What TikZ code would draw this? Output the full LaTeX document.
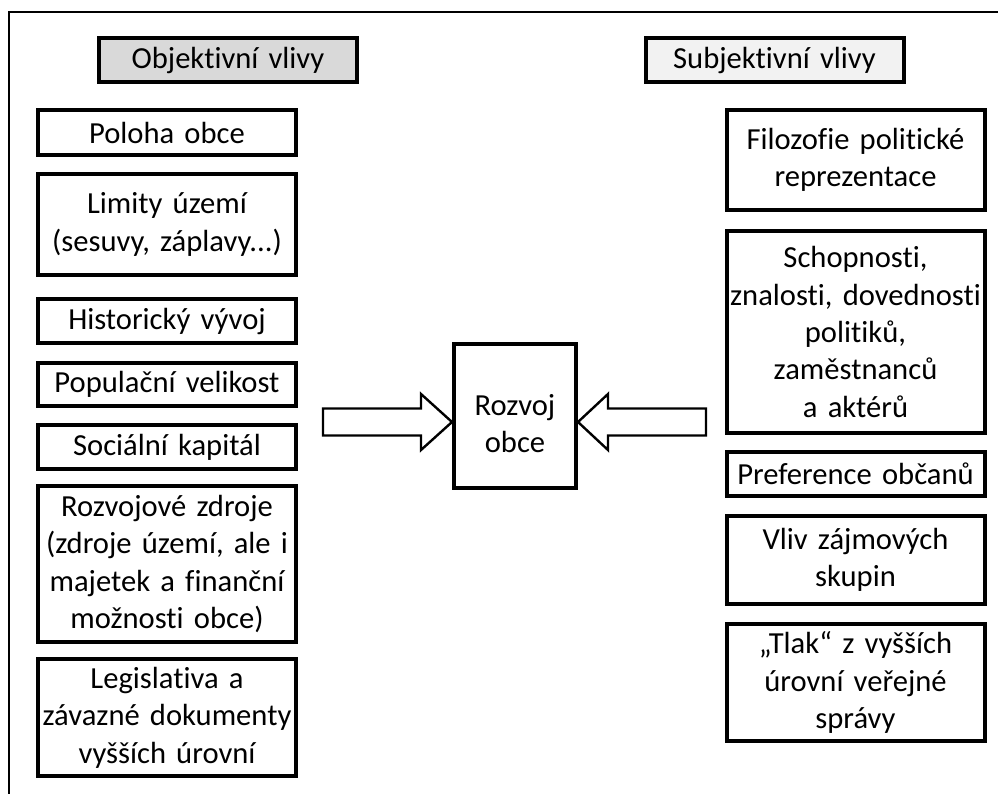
\documentclass[tikz,border=0pt]{standalone}
\usepackage{fontspec}
\setmainfont{Carlito}[Ligatures=NoCommon]
\usetikzlibrary{calc}

\begin{document}
\begin{tikzpicture}[x=0.5pt,y=-0.5pt,
    box/.style={draw, line width=2pt, align=center, text width=129pt,
        minimum width=129pt, inner xsep=0pt, inner ysep=2pt,
        font=\fontsize{15.3}{18.7}\selectfont},
    head/.style={box, minimum height=22pt},
    blockarrow/.style={draw, line width=1.2pt, fill=white, line join=miter}]

% page size and outer frame
\useasboundingbox (0,0) rectangle (998,794);
\draw[line width=1pt] (9,794) -- (9,12) -- (998,12);

% headings
\node[head, fill=black!15] (obj) at (228,60) {Objektivní vlivy};
\node[head, fill=black!5] (subj) at (774.5,60) {Subjektivní vlivy};

% objective influences
\node[box, minimum height=22.5pt] (poloha) at (167,132.5) {Poloha obce};
\node[box, minimum height=50.5pt] (limity) at (167,224.5) {Limity území\\(sesuvy, záplavy...)};
\node[box, minimum height=22pt] (historie) at (167,321) {Historický vývoj};
\node[box, minimum height=21.5pt] (populace) at (167,384.5) {Populační velikost};
\node[box, minimum height=22pt] (kapital) at (167,447) {Sociální kapitál};
\node[box, minimum height=78pt] (zdroje) at (167,564)
    {Rozvojové zdroje\\(zdroje území, ale i\\majetek a finanční\\možnosti obce)};
\node[box, minimum height=58.5pt] (legislativa) at (167,717.5)
    {Legislativa a\\závazné dokumenty\\vyšších úrovní};

% subjective influences
\node[box, minimum height=50pt] (filozofie) at (855.5,160) {Filozofie politické\\reprezentace};
\node[box, minimum height=101pt] (schopnosti) at (855.5,332)
    {Schopnosti,\\znalosti, dovednosti\\politiků,\\zaměstnanců\\a aktérů};
\node[box, minimum height=22pt] (preference) at (855.5,474) {Preference občanů};
\node[box, minimum height=44pt] (skupiny) at (855.5,560) {Vliv zájmových\\skupin};
\node[box, minimum height=58.5pt] (tlak) at (855.5,682.5)
    {„Tlak“ z vyšších\\úrovní veřejné\\správy};

% development of the municipality
\node[box, text width=61pt, minimum width=61pt, minimum height=72pt, text height=18pt]
    (rozvoj) at (515,416) {Rozvoj\\obce};

% block arrows into the centre
\draw[blockarrow] ([yshift=-3pt]rozvoj.west) -- ++(-31,-28) -- ++(0,14.5) -- ++(-98,0)
    -- ++(0,27) -- ++(98,0) -- ++(0,14.5) -- cycle;
\draw[blockarrow] ([yshift=-3pt]rozvoj.east) -- ++(30,-28) -- ++(0,14.5) -- ++(98,0)
    -- ++(0,27) -- ++(-98,0) -- ++(0,14.5) -- cycle;

\end{tikzpicture}
\end{document}
